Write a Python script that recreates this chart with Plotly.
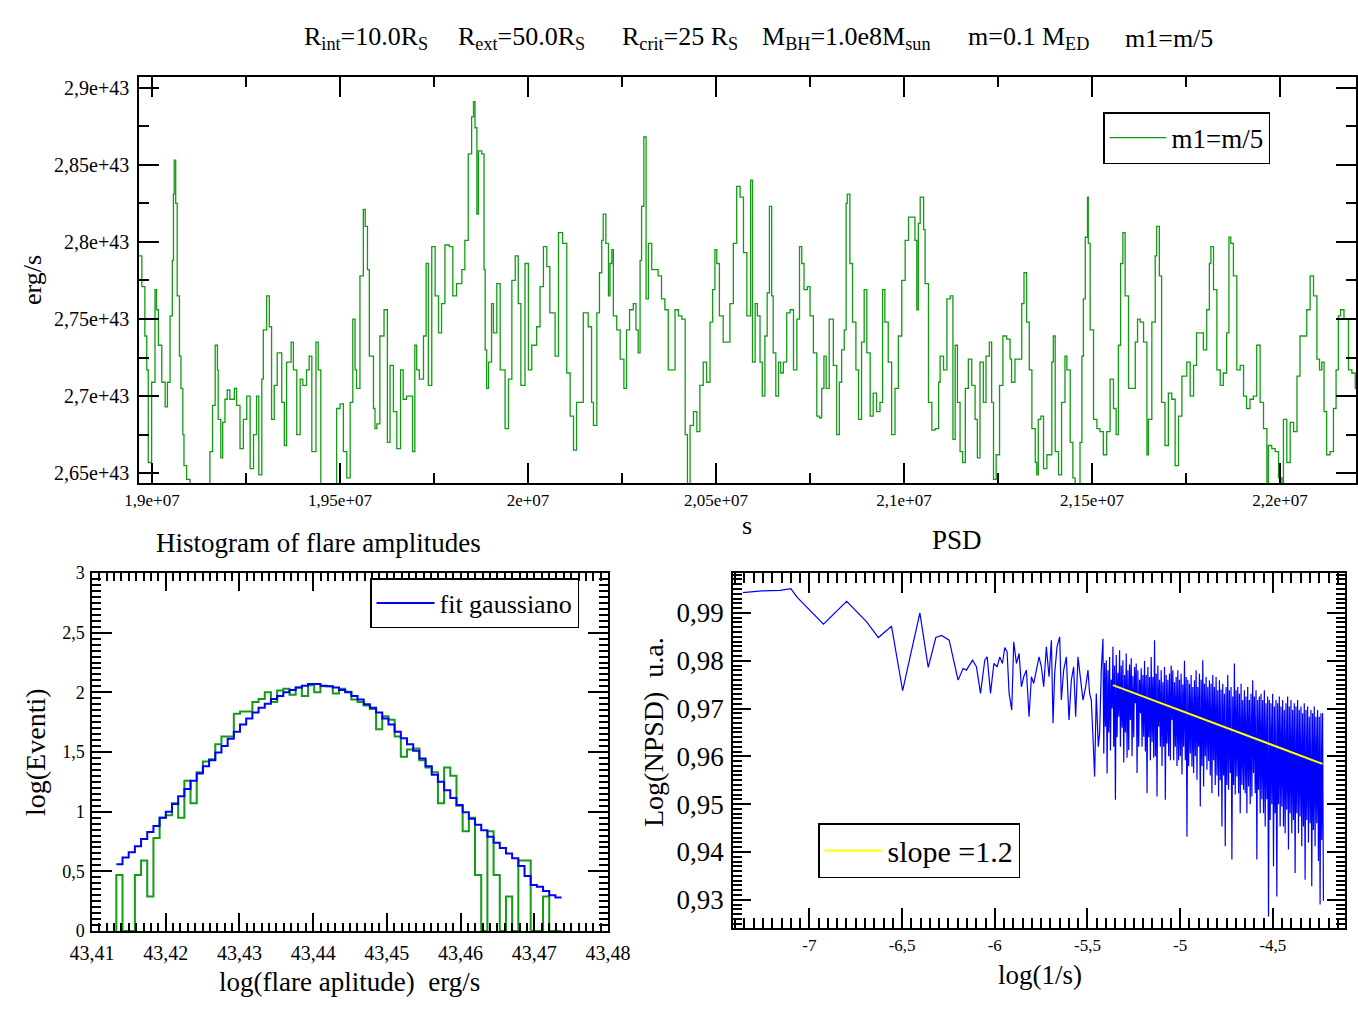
import plotly.graph_objects as go

W, H = 1358, 1009
FONT = "Liberation Serif"

# ---------------- light curve (time in 1e7 s, luminosity in 1e43 erg/s) ----------------
t_e7 = [
 1.8965,1.8973,1.8981,1.8986,1.8990,1.8999,1.9008,1.9012,1.9017,1.9026,1.9035,1.9041,1.9048,1.9054,1.9057,1.9059,
 1.9063,1.9067,1.9073,1.9077,1.9082,1.9085,1.9092,1.9101,1.9119,1.9141,1.9154,1.9161,1.9168,1.9174,1.9176,1.9183,
 1.9188,1.9194,1.9200,1.9207,1.9219,1.9225,1.9234,1.9243,1.9252,1.9261,1.9270,1.9278,1.9284,1.9292,1.9296,1.9305,
 1.9312,1.9318,1.9325,1.9333,1.9345,1.9352,1.9358,1.9370,1.9376,1.9385,1.9394,1.9401,1.9411,1.9418,1.9425,1.9436,
 1.9442,1.9449,1.9460,1.9478,1.9491,1.9500,1.9509,1.9518,1.9527,1.9534,1.9540,1.9544,1.9553,1.9562,1.9567,1.9573,
 1.9578,1.9589,1.9593,1.9598,1.9606,1.9617,1.9626,1.9633,1.9642,1.9651,1.9661,1.9668,1.9677,1.9686,1.9693,1.9699,
 1.9704,1.9711,1.9722,1.9729,1.9735,1.9744,1.9753,1.9762,1.9770,1.9779,1.9791,1.9800,1.9810,1.9824,1.9832,1.9841,
 1.9850,1.9855,1.9859,1.9864,1.9868,1.9877,1.9883,1.9886,1.9890,1.9895,1.9903,1.9908,1.9917,1.9926,1.9939,1.9948,
 1.9957,1.9966,1.9974,1.9981,1.9992,2.0001,2.0010,2.0023,2.0032,2.0041,2.0050,2.0058,2.0072,2.0081,2.0092,2.0103,
 2.0112,2.0121,2.0129,
 2.0147,2.0160,2.0169,2.0174,2.0183,2.0190,2.0196,2.0200,2.0207,2.0214,2.0218,2.0223,2.0227,2.0236,2.0245,2.0255,
 2.0262,2.0270,2.0280,2.0287,2.0293,2.0298,2.0302,2.0308,2.0314,2.0320,2.0329,2.0346,2.0355,2.0364,2.0373,2.0382,
 2.0391,2.0400,2.0409,2.0418,2.0424,2.0431,2.0440,2.0449,2.0457,2.0466,2.0475,2.0484,2.0491,2.0497,2.0502,2.0509,
 2.0519,2.0530,2.0537,2.0546,2.0555,2.0564,2.0573,2.0582,2.0592,2.0597,2.0604,2.0610,2.0617,2.0623,2.0630,2.0636,
 2.0642,2.0648,2.0652,2.0659,2.0666,2.0672,2.0679,2.0688,2.0697,2.0706,2.0715,2.0722,2.0728,2.0734,2.0743,2.0750,
 2.0759,2.0768,2.0775,2.0781,2.0787,2.0793,2.0801,2.0812,2.0821,2.0828,2.0834,2.0841,2.0846,2.0849,2.0856,2.0863,
 2.0872,2.0879,2.0887,2.0894,2.0901,2.0910,2.0918,2.0927,2.0936,2.0943,2.0949,2.0958,2.0967,2.0976,2.0985,2.0994,
 2.1003,2.1012,2.1021,2.1029,2.1034,2.1038,2.1043,2.1052,2.1056,2.1065,2.1074,2.1083,2.1092,2.1096,2.1105,2.1114,
 2.1123,2.1130,2.1136,2.1142,2.1149,2.1156,2.1163,2.1171,2.1180,2.1189,2.1195,2.1202,2.1211,2.1218,2.1227,2.1233,
 2.1238,2.1245,2.1254,2.1263,2.1273,2.1282,2.1286,2.1295,2.1304,
 2.1313,2.1319,2.1326,2.1333,2.1340,2.1349,2.1353,2.1357,2.1364,2.1371,2.1380,2.1393,2.1397,2.1402,2.1411,2.1419,
 2.1428,2.1433,2.1442,2.1449,2.1455,2.1468,2.1473,2.1477,2.1482,2.1488,2.1490,2.1495,2.1504,2.1513,2.1521,2.1530,
 2.1539,2.1548,2.1557,2.1564,2.1570,2.1576,2.1582,2.1588,2.1597,2.1606,2.1615,2.1621,2.1628,2.1637,2.1646,2.1650,
 2.1659,2.1668,2.1672,2.1679,2.1685,2.1694,2.1703,2.1712,2.1721,2.1730,2.1739,2.1752,2.1761,2.1770,2.1778,2.1787,
 2.1796,2.1805,2.1812,2.1816,2.1823,2.1832,2.1841,2.1849,2.1858,2.1864,2.1869,2.1876,2.1885,2.1894,2.1903,2.1911,
 2.1920,2.1929,2.1938,2.1947,2.1956,2.1965,2.1969,2.1978,2.1987,2.1996,2.2005,2.2009,2.2018,2.2027,2.2036,2.2045,
 2.2053,2.2062,2.2071,2.2080,2.2089,2.2098,2.2105,2.2111,2.2117,2.2124,2.2133,2.2142,2.2149,2.2155,2.2161,2.2170,
 2.2182,2.2191,2.2200,2.2206]
lum_e43 = [
 2.791,2.771,2.739,2.717,2.657,2.709,2.769,2.756,2.733,2.709,2.693,2.709,2.752,2.788,2.831,2.853,
 2.825,2.765,2.726,2.705,2.675,2.655,2.646,2.638,2.635,2.637,2.664,2.694,2.733,2.717,2.685,2.660,
 2.683,2.698,2.704,2.698,2.705,2.694,2.666,2.685,2.700,2.653,2.675,2.700,2.649,2.711,2.743,2.765,
 2.745,2.685,2.707,2.728,2.696,2.668,2.722,2.735,2.717,2.675,2.711,2.707,2.717,2.726,2.664,2.735,
 2.717,2.643,2.636,2.638,2.692,2.695,2.664,2.647,2.696,2.750,2.717,2.705,2.778,2.821,2.810,2.782,
 2.726,2.692,2.679,2.682,2.739,2.756,2.670,2.720,2.690,2.666,2.717,2.698,2.700,2.700,2.664,2.733,
 2.717,2.711,2.739,2.786,2.707,2.797,2.765,2.741,2.760,2.798,2.797,2.765,2.773,2.782,2.801,2.857,
 2.881,2.891,2.874,2.818,2.859,2.857,2.782,2.730,2.705,2.722,2.760,2.741,2.773,2.717,2.679,2.711,
 2.775,2.791,2.760,2.707,2.786,2.717,2.733,2.745,2.771,2.797,2.784,2.754,2.726,2.806,2.799,2.715,
 2.687,2.665,2.696,
 2.754,2.745,2.696,2.681,2.754,2.780,2.801,2.818,2.799,2.765,2.786,2.795,2.752,2.743,2.724,2.705,
 2.743,2.756,2.760,2.743,2.728,2.788,2.823,2.868,2.763,2.799,2.782,2.778,2.763,2.756,2.717,2.717,
 2.756,2.752,2.750,2.675,2.640,2.681,2.690,2.677,2.707,2.722,2.709,2.748,2.769,2.795,2.786,2.752,
 2.735,2.735,2.760,2.799,2.836,2.829,2.793,2.752,2.840,2.722,2.760,2.752,2.722,2.700,2.739,2.767,
 2.823,2.765,2.728,2.700,2.722,2.715,2.722,2.754,2.756,2.717,2.750,2.797,2.786,2.769,2.771,2.752,
 2.728,2.687,2.686,2.705,2.726,2.705,2.750,2.720,2.675,2.709,2.730,2.743,2.825,2.831,2.786,2.748,
 2.717,2.685,2.735,2.769,2.728,2.687,2.702,2.690,2.696,2.769,2.748,2.722,2.675,2.705,2.739,2.775,
 2.801,2.816,2.816,2.801,2.756,2.812,2.829,2.808,2.773,2.696,2.678,2.679,2.709,2.726,2.717,2.763,
 2.765,2.672,2.733,2.696,2.664,2.657,2.705,2.724,2.707,2.685,2.660,2.722,2.696,2.726,2.735,2.696,
 2.646,2.662,2.707,2.739,2.737,2.724,2.709,2.724,2.724,
 2.760,2.780,2.748,2.717,2.679,2.657,2.649,2.685,2.687,2.653,2.662,2.722,2.739,2.664,2.649,2.696,
 2.726,2.717,2.670,2.647,2.640,2.670,2.726,2.763,2.803,2.829,2.799,2.743,2.685,2.679,2.677,2.662,
 2.677,2.711,2.692,2.675,2.733,2.786,2.806,2.765,2.705,2.705,2.735,2.750,2.748,2.735,2.662,2.685,
 2.748,2.791,2.810,2.778,2.696,2.668,2.702,2.698,2.655,2.687,2.713,2.722,2.700,2.720,2.741,2.741,
 2.730,2.756,2.786,2.797,2.769,2.717,2.707,2.715,2.741,2.803,2.799,2.778,2.717,2.720,2.700,2.692,
 2.698,2.700,2.733,2.696,2.679,2.640,2.668,2.666,2.664,2.647,2.640,2.685,2.657,2.683,2.677,2.713,
 2.739,2.739,2.756,2.778,2.765,2.724,2.717,2.722,2.690,2.662,2.664,2.692,2.717,2.752,2.756,2.750,
 2.717,2.715,2.705,2.700]

x_ticks_top = [1.9e7, 1.95e7, 2.0e7, 2.05e7, 2.1e7, 2.15e7, 2.2e7]
x_ticktext_top = ["1,9e+07", "1,95e+07", "2e+07", "2,05e+07", "2,1e+07", "2,15e+07", "2,2e+07"]
y_ticks_top = [2.65e43, 2.70e43, 2.75e43, 2.80e43, 2.85e43, 2.90e43]
y_ticktext_top = ["2,65e+43", "2,7e+43", "2,75e+43", "2,8e+43", "2,85e+43", "2,9e+43"]

# ---------------- histogram of flare amplitudes (log counts per bin) ----------------
hist_start = 43.4133
hist_binw = 0.000839
hist_counts = [
 0.47, 0.0, 0.0, 0.47, 0.59, 0.29, 0.78, 0.95, 0.97, 1.07, 0.95, 1.26, 1.07, 1.33, 1.42, 1.44,
 1.565, 1.63, 1.63, 1.82, 1.84, 1.84, 1.92, 1.945, 2.0, 1.92, 2.015, 2.03, 1.98, 2.04, 1.97, 2.06,
 2.0, 2.05, 2.05, 1.99, 2.03, 2.005, 1.94, 1.92, 1.89, 1.86, 1.69, 1.80, 1.77, 1.63, 1.46, 1.52,
 1.53, 1.43, 1.37, 1.33, 1.07, 1.37, 1.30, 1.05, 0.835, 0.95, 0.47, 0.0, 0.835, 0.47, 0.0, 0.29,
 0.0, 0.59, 0.59, 0.0, 0.0, 0.29, 0.0, 0.0]
gauss_fit = [
 0.56, 0.615, 0.66, 0.71, 0.77, 0.83, 0.88, 0.95, 1.0, 1.065, 1.13, 1.19, 1.26, 1.32, 1.38, 1.43,
 1.495, 1.55, 1.61, 1.67, 1.73, 1.78, 1.83, 1.87, 1.905, 1.945, 1.97, 2.0, 2.02, 2.04, 2.055, 2.07,
 2.07, 2.055, 2.05, 2.04, 2.02, 2.0, 1.97, 1.94, 1.90, 1.87, 1.83, 1.78, 1.73, 1.67, 1.615, 1.565,
 1.51, 1.445, 1.38, 1.31, 1.25, 1.18, 1.115, 1.055, 0.995, 0.94, 0.89, 0.845, 0.79, 0.74, 0.695, 0.65,
 0.61, 0.545, 0.46, 0.385, 0.37, 0.335, 0.30, 0.28]
hist_xticks = [43.41, 43.42, 43.43, 43.44, 43.45, 43.46, 43.47, 43.48]
hist_xticktext = ["43,41", "43,42", "43,43", "43,44", "43,45", "43,46", "43,47", "43,48"]
hist_yticks = [0, 0.5, 1, 1.5, 2, 2.5, 3]
hist_yticktext = ["0", "0,5", "1", "1,5", "2", "2,5", "3"]

# ---------------- PSD ----------------
# low-frequency part (irregular sampling in log f)
log_freq = [
 -7.359, -7.2565, -7.158, -7.100, -7.068, -6.924, -6.799, -6.691, -6.628, -6.557, -6.497, -6.404,
 -6.359, -6.318, -6.287, -6.246, -6.198, -6.171, -6.153, -6.120, -6.099, -6.077, -6.054, -6.041,
 -6.023, -6.005,
 -5.9874, -5.9731, -5.9587, -5.9461, -5.9336, -5.9228, -5.9084, -5.8977, -5.8833, -5.8689, -5.8564,
 -5.8438, -5.8295, -5.8151, -5.8025, -5.7900, -5.7756, -5.7613, -5.7487, -5.7361, -5.7218, -5.7074,
 -5.6948, -5.6858, -5.6769, -5.6643, -5.6499, -5.6410, -5.6284, -5.6140, -5.5997, -5.5871, -5.5746,
 -5.5638, -5.5512, -5.5387, -5.5243, -5.5099, -5.4974, -5.4884, -5.4794, -5.4705, -5.4615, -5.4525,
 -5.4417, -5.4346, -5.4256]
log_npsd = [
 0.99424, 0.99459, 0.99473, 0.99508, 0.99334, 0.98763, 0.99244, 0.98812, 0.98485, 0.98722, 0.97372, 0.99,
 0.97859, 0.98485, 0.98527, 0.98429, 0.97594, 0.97838, 0.97803, 0.98012, 0.97873, 0.97316, 0.98012, 0.98081,
 0.97316, 0.97942,
 0.97873, 0.98081, 0.97942, 0.98276, 0.98186, 0.97316, 0.96968, 0.98395, 0.97942, 0.98151, 0.97455,
 0.97664, 0.97803, 0.96829, 0.97664, 0.97525, 0.97803, 0.98081, 0.97873, 0.97455, 0.98290, 0.97664,
 0.98429, 0.96690, 0.97734, 0.98290, 0.98499, 0.97177, 0.97803, 0.98081, 0.96759, 0.97594, 0.97873,
 0.96829, 0.98081, 0.97664, 0.97177, 0.97455, 0.97803, 0.97316, 0.97177, 0.96411, 0.95576, 0.97316,
 0.96202, 0.96481, 0.97803]
# high-frequency part (dense, evenly spaced in the plot)
dense_x0 = -5.4166
dense_dx = 0.0044875
dense_npsd = [
 0.9846, 0.9606, 0.9795, 0.9662, 0.9801, 0.9564, 0.9780, 0.9650, 0.9808, 0.9612,
 0.9760, 0.9700, 0.9829, 0.9620, 0.9790, 0.9509, 0.9812, 0.9640, 0.9775, 0.9683,
 0.9822, 0.9620, 0.9790, 0.9660, 0.9801, 0.9587, 0.9770, 0.9650, 0.9815, 0.9597,
 0.9780, 0.9613, 0.9792, 0.9676, 0.9805, 0.9600, 0.9768, 0.9640, 0.9787, 0.9711,
 0.9794, 0.9565, 0.9780, 0.9620, 0.9760, 0.9690, 0.9784, 0.9620, 0.9770, 0.9641,
 0.9800, 0.9610, 0.9770, 0.9523, 0.9787, 0.9640, 0.9766, 0.9592, 0.9808, 0.9630,
 0.9766, 0.9597, 0.9843, 0.9600, 0.9773, 0.9516, 0.9790, 0.9662, 0.9760, 0.9620,
 0.9780, 0.9580, 0.9755, 0.9620, 0.9787, 0.9509, 0.9770, 0.9627, 0.9760, 0.9600,
 0.9773, 0.9592, 0.9790, 0.9676, 0.9780, 0.9592, 0.9755, 0.9620, 0.9766, 0.9580,
 0.9780, 0.9592, 0.9760, 0.9600, 0.9773, 0.9562, 0.9750, 0.9620, 0.9800, 0.9592,
 0.9766, 0.9432, 0.9760, 0.9580, 0.9752, 0.9606, 0.9770, 0.9578, 0.9745, 0.9565,
 0.9759, 0.9600, 0.9780, 0.9551, 0.9745, 0.9620, 0.9773, 0.9495, 0.9760, 0.9580,
 0.9801, 0.9537, 0.9752, 0.9600, 0.9766, 0.9572, 0.9745, 0.9590, 0.9759, 0.9560,
 0.9752, 0.9523, 0.9770, 0.9592, 0.9745, 0.9540, 0.9766, 0.9560, 0.9738, 0.9516,
 0.9759, 0.9550, 0.9740, 0.9453, 0.9752, 0.9560, 0.9731, 0.9412, 0.9745, 0.9540,
 0.9770, 0.9530, 0.9738, 0.9565, 0.9745, 0.9384, 0.9725, 0.9540, 0.9794, 0.9520,
 0.9738, 0.9558, 0.9745, 0.9523, 0.9731, 0.9481, 0.9752, 0.9540, 0.9718, 0.9530,
 0.9738, 0.9523, 0.9725, 0.9481, 0.9745, 0.9537, 0.9718, 0.9500, 0.9731, 0.9516,
 0.9759, 0.9565, 0.9725, 0.9523, 0.9738, 0.9384, 0.9718, 0.9530, 0.9725, 0.9481,
 0.9731, 0.9510, 0.9718, 0.9481, 0.9738, 0.9453, 0.9711, 0.9510, 0.9725, 0.9265,
 0.9718, 0.9467, 0.9711, 0.9500, 0.9731, 0.9370, 0.9704, 0.9481, 0.9718, 0.9307,
 0.9711, 0.9500, 0.9725, 0.9453, 0.9704, 0.9495, 0.9718, 0.9453, 0.9697, 0.9439,
 0.9711, 0.9488, 0.9725, 0.9405, 0.9704, 0.9481, 0.9718, 0.9439, 0.9697, 0.9467,
 0.9711, 0.9356, 0.9704, 0.9481, 0.9718, 0.9439, 0.9697, 0.9474, 0.9704, 0.9412,
 0.9690, 0.9453, 0.9711, 0.9342, 0.9697, 0.9467, 0.9704, 0.9420, 0.9683, 0.9460,
 0.9697, 0.9328, 0.9690, 0.9446, 0.9704, 0.9412, 0.9683, 0.9460, 0.9697, 0.9381,
 0.9683, 0.9290, 0.9690, 0.9425, 0.9690, 0.9298]
fit_x = [-5.363, -4.232]
fit_y = [0.97490, 0.95841]
psd_xticks = [-7, -6.5, -6, -5.5, -5, -4.5]
psd_xticktext = ["-7", "-6,5", "-6", "-5,5", "-5", "-4,5"]
psd_yticks = [0.93, 0.94, 0.95, 0.96, 0.97, 0.98, 0.99]
psd_yticktext = ["0,93", "0,94", "0,95", "0,96", "0,97", "0,98", "0,99"]

# ---------------- figure ----------------
GREEN = "#139c13"
fig = go.Figure()

fig.add_trace(go.Scatter(
    x=[t * 1e7 for t in t_e7], y=[v * 1e43 for v in lum_e43],
    mode="lines", line=dict(color=GREEN, width=1.3, shape="hv"),
    name="m1=m/5", xaxis="x", yaxis="y", legend="legend"))

edges = [hist_start + i * hist_binw for i in range(len(hist_counts) + 1)]
fig.add_trace(go.Scatter(
    x=[edges[0]] + edges, y=[0] + hist_counts + [hist_counts[-1]],
    mode="lines", line=dict(color=GREEN, width=2, shape="hv"),
    showlegend=False, xaxis="x2", yaxis="y2"))
fig.add_trace(go.Scatter(
    x=edges, y=gauss_fit + [gauss_fit[-1]],
    mode="lines", line=dict(color="#0000ff", width=2, shape="hv"),
    name="fit gaussiano", xaxis="x2", yaxis="y2", legend="legend2"))

psd_x = log_freq + [dense_x0 + i * dense_dx for i in range(len(dense_npsd))]
psd_y = log_npsd + dense_npsd
fig.add_trace(go.Scatter(
    x=psd_x, y=psd_y, mode="lines", line=dict(color="#0000ff", width=1.2),
    showlegend=False, xaxis="x3", yaxis="y3"))
fig.add_trace(go.Scatter(
    x=fit_x, y=fit_y, mode="lines", line=dict(color="#ffff00", width=2),
    name="slope =1.2", xaxis="x3", yaxis="y3", legend="legend3"))


def px(x):
    return x / W


def py(y):
    return 1 - y / H


def axis(domain, rng, tickvals, ticktext, major_len, minor_dtick, minor_len, tick0, fsize, anchor, standoff):
    return dict(domain=domain, range=rng, anchor=anchor, tickmode="array", tickvals=tickvals,
                ticktext=ticktext, ticks="inside", ticklen=major_len, tickwidth=1.5, tickcolor="black",
                showline=True, linecolor="black", linewidth=1.5, mirror="allticks",
                showgrid=False, zeroline=False, ticklabelstandoff=standoff, automargin=False,
                tickfont=dict(family=FONT, size=fsize, color="black"),
                minor=dict(ticks="inside", ticklen=minor_len, tickwidth=1.5, tickcolor="black",
                           tickmode="linear", tick0=tick0, dtick=minor_dtick, showgrid=False))


def legend_box(x, y, size, itemwidth):
    return dict(x=px(x), y=py(y), xanchor="left", yanchor="top", bgcolor="white",
                bordercolor="black", borderwidth=1.5, itemwidth=itemwidth,
                font=dict(family=FONT, size=size, color="black"))


fig.update_layout(
    width=W, height=H, margin=dict(l=0, r=0, t=0, b=0, pad=0, autoexpand=False),
    paper_bgcolor="white", plot_bgcolor="white", separators=",.",
    font=dict(family=FONT, color="black"),
    xaxis=axis([px(139), px(1356)], [1.89654e7, 2.2202e7], x_ticks_top, x_ticktext_top,
               20, 2.5e5, 10, 1.9e7, 17, "y", 1),
    yaxis=axis([py(483), py(77)], [2.6437e43, 2.9069e43], y_ticks_top, y_ticktext_top,
               20, 0.025e43, 10, 2.65e43, 20, "x", 4),
    xaxis2=axis([px(92), px(608)], [43.41, 43.48], hist_xticks, hist_xticktext,
                18, 0.001, 8, 43.41, 20, "y2", 3),
    yaxis2=axis([py(931), py(573)], [0, 3], hist_yticks, hist_yticktext,
                20, 0.05, 9, 0, 18, "x2", 2),
    xaxis3=axis([px(733), px(1345)], [-7.412, -4.111], psd_xticks, psd_xticktext,
                20, 0.05, 10, -7, 17, "y3", 1),
    yaxis3=axis([py(928), py(573)], [0.92409, 0.99835], psd_yticks, psd_yticktext,
                18, 0.001, 9, 0.93, 27, "x3", 2),
    legend=legend_box(1103, 112, 27, 57),
    legend2=legend_box(370, 578, 26, 58),
    legend3=legend_box(818, 823, 30, 58),
)

ann = []


def text(x, y, s, size, angle=0, xanchor="center"):
    ann.append(dict(x=px(x), y=py(y), xref="paper", yref="paper", text=s, showarrow=False,
                    textangle=angle, xanchor=xanchor, yanchor="middle",
                    font=dict(family=FONT, size=size, color="black")))


# top header
text(302, 38, "R<sub>int</sub>=10.0R<sub>S</sub>", 26, xanchor="left")
text(456, 38, "R<sub>ext</sub>=50.0R<sub>S</sub>", 26, xanchor="left")
text(620, 38, "R<sub>crit</sub>=25 R<sub>S</sub>", 26, xanchor="left")
text(760, 38, "M<sub>BH</sub>=1.0e8M<sub>sun</sub>", 26, xanchor="left")
text(966, 38, "m=0.1 M<sub>ED</sub>", 26, xanchor="left")
text(1123, 38, "m1=m/5", 26, xanchor="left")

text(32, 280, "erg/s", 26, angle=-90)
text(747, 525, "s", 26)
text(318, 543, "Histogram of flare amplitudes", 27)
text(957, 540, "PSD", 27)
text(35, 752, "log(Eventi)", 28, angle=-90)
text(350, 982, "log(flare aplitude)&nbsp;&nbsp;erg/s", 27)
text(653, 732, "Log(NPSD)&nbsp;&nbsp;u.a.", 28, angle=-90)
text(1040, 975, "log(1/s)", 27)

fig.update_layout(annotations=ann)
fig.write_html("out.html")
